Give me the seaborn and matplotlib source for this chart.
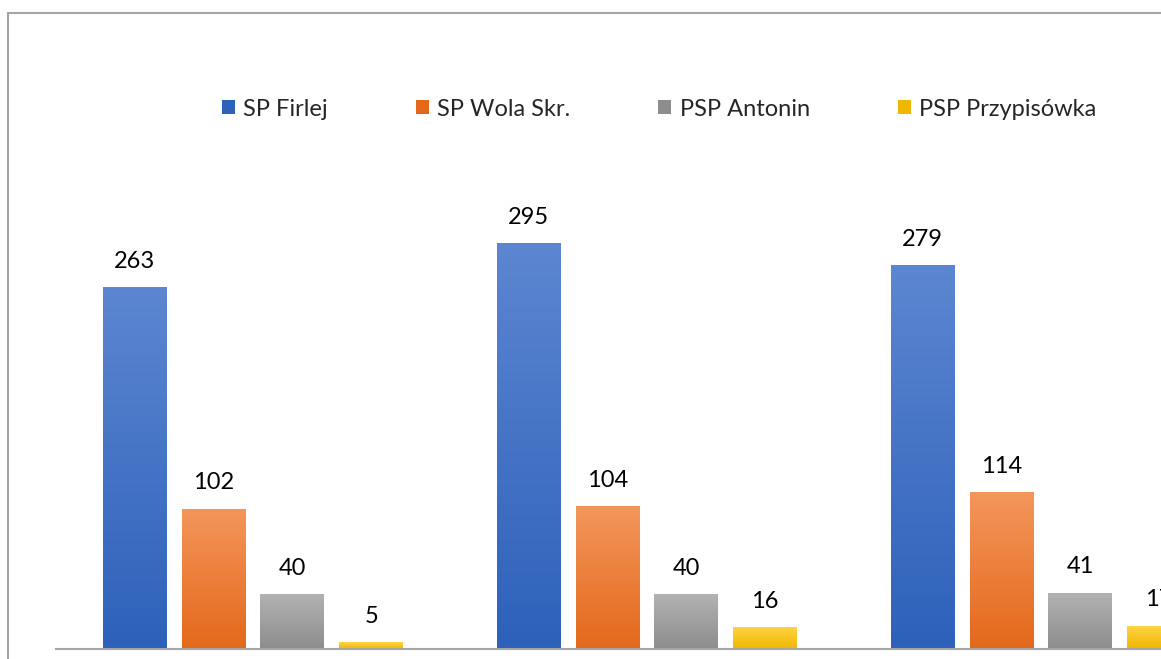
import numpy as np
import pandas as pd
import matplotlib
matplotlib.use("Agg")
import matplotlib.pyplot as plt
import seaborn as sns
from matplotlib.colors import LinearSegmentedColormap
from matplotlib.lines import Line2D
from matplotlib.patches import Patch

# Data
groups = ["Okres 1", "Okres 2", "Okres 3"]
schools = ["SP Firlej", "SP Wola Skr.", "PSP Antonin", "PSP Przypisówka"]
sp_firlej = [263, 295, 279]
sp_wola = [102, 104, 114]
psp_antonin = [40, 40, 41]
psp_przypisowka = [5, 16, 17]

# gradient colours per school (top, bottom)
top_colors = ["#5C86D1", "#F4965C", "#B3B3B3", "#FFD546"]
bottom_colors = ["#2D61BA", "#E4681A", "#8D8D8D", "#F0B700"]

df = pd.DataFrame({
    "grupa": groups * 4,
    "szkola": [s for s in schools for _ in groups],
    "liczba": sp_firlej + sp_wola + psp_antonin + psp_przypisowka,
})

sns.set_style("white")
plt.rcParams["font.family"] = ["Lato", "DejaVu Sans"]

W, H = 1161, 659
fig = plt.figure(figsize=(W / 100, H / 100), dpi=100)
px_per_unit = 1.376
ax_h = 630
ax = fig.add_axes([56 / W, 10 / H, 3 * 394 / W, ax_h / H])

sns.barplot(data=df, x="grupa", y="liczba", hue="szkola", hue_order=schools,
            palette=bottom_colors, width=0.8, gap=0.19, legend=False, ax=ax)

ax.set_xlim(-0.5, 2.5)
ax.set_ylim(0, ax_h / px_per_unit)

# gradient fill inside each bar
grad = np.linspace(1, 0, 256).reshape(-1, 1)
for cont, c_top, c_bot in zip(ax.containers, top_colors, bottom_colors):
    cmap = LinearSegmentedColormap.from_list("g", [c_bot, c_top])
    for bar in cont:
        x0, y0 = bar.get_x(), bar.get_y()
        w, h = bar.get_width(), bar.get_height()
        im = ax.imshow(grad, cmap=cmap, extent=[x0, x0 + w, y0, y0 + h],
                       aspect="auto", zorder=bar.get_zorder() + 0.1,
                       interpolation="bilinear")
        im.set_clip_path(bar)
    ax.bar_label(cont, padding=11, fontsize=17, color="#000000")

ax.set_xlim(-0.5, 2.5)
ax.set_ylim(0, ax_h / px_per_unit)

for side in ["top", "left", "right"]:
    ax.spines[side].set_visible(False)
ax.spines["bottom"].set_color("#A6A6A6")
ax.spines["bottom"].set_linewidth(1.5)
ax.set_xticks([])
ax.set_yticks([])
ax.set_xlabel("")
ax.set_ylabel("")

handles = [Patch(facecolor=c, edgecolor="none") for c in bottom_colors]
fig.legend(handles, schools, loc="center", bbox_to_anchor=(659 / W, 1 - 109 / H),
           ncol=4, frameon=False, fontsize=17, handlelength=0.55, handleheight=0.55,
           handletextpad=0.35, columnspacing=3.73)

# chart frame (cropped)
fx = 8 / W
fy = 1 - 13 / H
fig.add_artist(Line2D([fx, fx], [0, fy], transform=fig.transFigure,
                      color="#A6A6A6", lw=1.5))
fig.add_artist(Line2D([fx, 1], [fy, fy], transform=fig.transFigure,
                      color="#A6A6A6", lw=1.5))

fig.savefig("out.png", dpi=100)
